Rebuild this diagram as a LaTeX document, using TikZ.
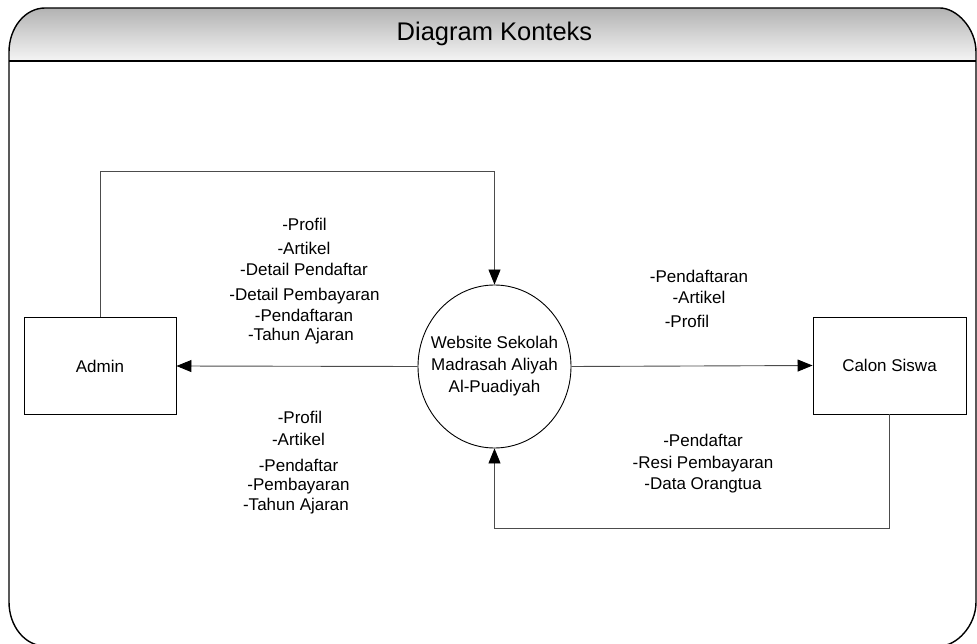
\documentclass[tikz,border=0pt]{standalone}
\usepackage{fontspec}
\setmainfont{Liberation Sans}
\usetikzlibrary{shapes.geometric,arrows.meta}
\begin{document}
\begin{tikzpicture}[x=1pt,y=-1pt,
  lbl/.style={anchor=base,inner sep=0pt,font=\fontsize{17}{22}\selectfont},
  entity/.style={draw=black,line width=0.9pt,minimum width=152pt,minimum height=97pt,inner sep=0pt,font=\fontsize{17}{22}\selectfont},
  proc/.style={draw=black,line width=0.9pt,ellipse,minimum width=153pt,minimum height=163pt,inner xsep=-14pt,inner ysep=0pt,align=center,font=\fontsize{17}{22}\selectfont},
  conn/.style={draw=black!70,line width=0.9pt},
  tip/.style={-{Triangle[length=15pt,width=12pt,fill=black,color=black]}}
]
\useasboundingbox (0,0) rectangle (977,644);
% header with gradient
\shade[top color=black!30,bottom color=black!4]
  (9,61) -- (9,52) .. controls (9,27.7) and (25.1,8) .. (45,8)
  -- (940,8) .. controls (956.1,8) and (976,27.7) .. (976,52) -- (976,61) -- cycle;
% frame
\draw[line width=1.4pt]
  (9,52) .. controls (9,27.7) and (25.1,8) .. (45,8)
  -- (940,8) .. controls (956.1,8) and (976,27.7) .. (976,52)
  -- (976,602) .. controls (976,626.3) and (956.1,646) .. (940,646)
  -- (45,646) .. controls (25.1,646) and (9,626.3) .. (9,602) -- cycle;
\draw[line width=1.4pt] (9,61) -- (976,61);
\node[anchor=base,inner sep=0pt,font=\fontsize{25.5}{28}\selectfont] (title) at (494.5,41) {Diagram Konteks};

% nodes
\node[entity] (admin) at (100,366) {Admin};
\node[proc] (web) at (494.5,366.5) {Website Sekolah\\Madrasah Aliyah\\Al-Puadiyah};
\node[entity,minimum width=153pt] (calon) at (889.5,365.5) {Calon Siswa};

\coordinate (ta) at (100,171);
\coordinate (tb) at (494.5,171);
\coordinate (ba) at (889.5,528);
\coordinate (bb) at (494.5,528);

% connectors
\draw[conn,tip] (web.west) -- (admin.east);
\draw[conn,tip] (web.east) -- (calon.west);
\draw[conn,tip] (admin.north) -- (ta) -- (tb) -- (web.north);
\draw[conn,tip] (calon.south) -- (ba) -- (bb) -- (web.south);

% labels top-left
\node[lbl] (l1) at (304.5,230.5) {-Profil};
\node[lbl] (l2) at (304,254.5) {-Artikel};
\node[lbl] (l3) at (304,275.5) {-Detail Pendaftar};
\node[lbl] (l4) at (304.5,300.5) {-Detail Pembayaran};
\node[lbl] (l5) at (304,321.5) {-Pendaftaran};
\node[lbl] (l6) at (301,340.5) {-Tahun Ajaran};
% labels bottom-left
\node[lbl] (m1) at (300,423) {-Profil};
\node[lbl] (m2) at (298.5,445.5) {-Artikel};
\node[lbl] (m3) at (298.5,471) {-Pendaftar};
\node[lbl] (m4) at (298.5,490.5) {-Pembayaran};
\node[lbl] (m5) at (296,510.5) {-Tahun Ajaran};
% labels right-top
\node[lbl] (r1) at (699,282.5) {-Pendaftaran};
\node[lbl] (r2) at (699,303.5) {-Artikel};
\node[lbl] (r3) at (687,327.5) {-Profil};
% labels right-bottom
\node[lbl] (s1) at (703,446.5) {-Pendaftar};
\node[lbl] (s2) at (703,468.5) {-Resi Pembayaran};
\node[lbl] (s3) at (703,489.5) {-Data Orangtua};
\end{tikzpicture}
\end{document}
